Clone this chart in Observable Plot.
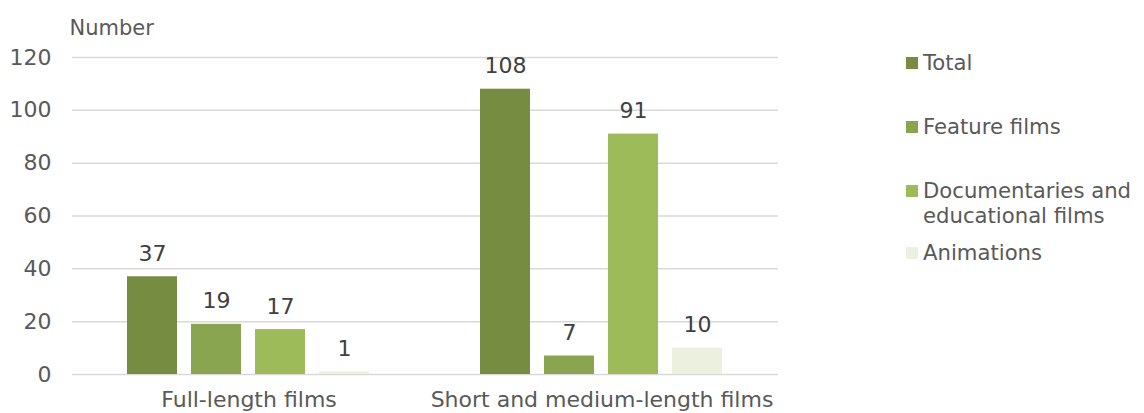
<!DOCTYPE html>
<html>
<head>
<meta charset="utf-8">
<script src="https://cdn.jsdelivr.net/npm/d3@7"></script>
<script src="https://cdn.jsdelivr.net/npm/@observablehq/plot@0.6"></script>
<style>
  html, body { margin: 0; padding: 0; background: #fff; }
  #wrap { position: relative; width: 1144px; height: 413px; font-family: "DejaVu Sans", Verdana, sans-serif; }
  #legend { position: absolute; left: 906px; top: 0; color: #595959; font-size: 21.2px; }
  .item { position: absolute; left: 0; white-space: nowrap; }
  .sw { position: absolute; left: 0; width: 12px; height: 12px; }
  .lbl { position: absolute; left: 17px; line-height: 25px; }
</style>
</head>
<body>
<div id="wrap"></div>
<script>
const groups = ["Full-length films", "Short and medium-length films"];
const series = ["Total", "Feature films", "Documentaries and educational films", "Animations"];
const fullLength = [37, 19, 17, 1];
const shortMedium = [108, 7, 91, 10];
const colors = ["#758c41", "#8aa54f", "#9dbb59", "#ebf1de"];
const yTicks = [0, 20, 40, 60, 80, 100, 120];
const legendLines = [["Total"], ["Feature films"], ["Documentaries and", "educational films"], ["Animations"]];

const data = [
  ...series.map((s, i) => ({group: groups[0], series: s, value: fullLength[i]})),
  ...series.map((s, i) => ({group: groups[1], series: s, value: shortMedium[i]}))
];

const chart = Plot.plot({
  width: 1144,
  height: 413,
  marginLeft: 71,
  marginRight: 366,
  marginTop: 57,
  marginBottom: 39,
  style: {fontFamily: "DejaVu Sans, Verdana, sans-serif", fontSize: "22px", color: "#595959", background: "#fff"},
  fx: {domain: groups, padding: 0, label: null, axis: "bottom", tickSize: 0, tickPadding: 17},
  x: {domain: series, axis: null, paddingInner: 0.217, paddingOuter: 0.85},
  y: {domain: [0, 120], ticks: yTicks, tickSize: 0, tickPadding: 21, label: null},
  color: {domain: series, range: colors},
  marks: [
    Plot.gridY(yTicks, {stroke: "#d9d9d9", strokeOpacity: 1, strokeWidth: 1.5}),
    Plot.barY(data, {fx: "group", x: "series", y: "value", fill: "series"}),
    Plot.text(data, {fx: "group", x: "series", y: "value", text: d => String(d.value), lineAnchor: "bottom", dy: -16, fill: "#404040", fontSize: 22}),
    Plot.text(["Number"], {fx: () => groups[0], frameAnchor: "top-left", textAnchor: "start", lineAnchor: "middle", dx: -3, dy: -29, fill: "#595959", fontSize: 21})
  ]
});
document.getElementById("wrap").appendChild(chart);

const legend = document.createElement("div");
legend.id = "legend";
const tops = [50, 114, 178, 240];
legendLines.forEach((lines, i) => {
  const item = document.createElement("div");
  item.className = "item";
  item.style.top = tops[i] + "px";
  const sw = document.createElement("div");
  sw.className = "sw";
  sw.style.background = colors[i];
  sw.style.top = "7px";
  const lbl = document.createElement("div");
  lbl.className = "lbl";
  lbl.innerHTML = lines.join("<br>");
  item.appendChild(sw);
  item.appendChild(lbl);
  legend.appendChild(item);
});
document.getElementById("wrap").appendChild(legend);
</script>
</body>
</html>
